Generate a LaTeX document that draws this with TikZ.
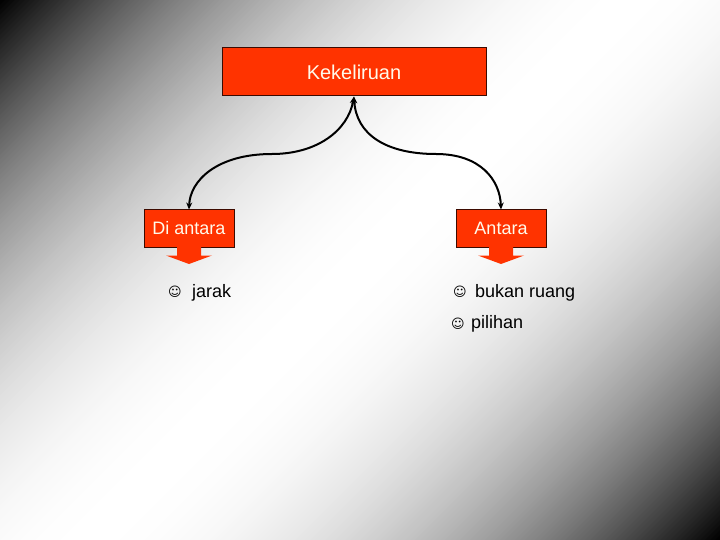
\documentclass[tikz,border=0pt]{standalone}
\usepackage{fontspec}
\setmainfont{Liberation Sans}
\newfontfamily\symfont{DejaVu Sans}
\usetikzlibrary{arrows.meta,calc}
\definecolor{boxred}{RGB}{255,51,0}
\definecolor{boxedge}{RGB}{60,10,0}
\definecolor{boxtext}{RGB}{255,250,235}
\tikzset{
  redbox/.style={draw=boxedge, line width=1pt, fill=boxred, inner sep=0pt,
    text=boxtext, font=\fontsize{18}{20}\selectfont},
  conn/.style={line width=2pt,
    {Stealth[length=7pt,width=6pt]}-{Stealth[length=7pt,width=6pt]}},
  itemtext/.style={anchor=base west, inner sep=0pt, font=\fontsize{18}{20}\selectfont},
  smile/.style={inner sep=0pt, font=\symfont\fontsize{13}{14}\selectfont},
  calloutarrow/.style={fill=boxred}
}
\begin{document}
\begin{tikzpicture}[x=1pt,y=-1pt]
\useasboundingbox (0,0) rectangle (720,540);
% background gradient: diagonal strips x+y = t, black at both ends, white in the middle
\begin{scope}
  \clip (0,0) rectangle (720,540);
  \foreach \t in {0,5,...,1255} {
    \pgfmathsetmacro\dd{min(\t+2.5,1260-\t-2.5)}
    \pgfmathsetmacro\bb{max(1-\dd/630,0.001)}
    \pgfmathsetmacro\vv{100*(1-\bb^2.1)}
    \fill[white!\vv!black] (\t,0) -- (\t+6,0) -- (\t+6-1000,1000) -- (\t-1000,1000) -- cycle;
  }
\end{scope}

% boxes
\node[redbox, minimum width=264pt, minimum height=48pt,
      font=\fontsize{20}{22}\selectfont] (top) at (354,72) {Kekeliruan};
\node[redbox, minimum width=90pt, minimum height=37pt] (dia) at (189,228.5) {Di antara};
\node[redbox, minimum width=90pt, minimum height=37pt] (ant) at (501,228.5) {Antara};

% callout arrows
\fill[calloutarrow] ($(dia.south)+(-12,-1)$) -- ++(0,9) -- ++(-11,0)
   -- ($(dia.south)+(0,16.5)$) -- ($(dia.south)+(23,8)$) -- ($(dia.south)+(12,8)$)
   -- ($(dia.south)+(12,-1)$) -- cycle;
\fill[calloutarrow] ($(ant.south)+(-12,-1)$) -- ++(0,9) -- ++(-11,0)
   -- ($(ant.south)+(0,16.5)$) -- ($(ant.south)+(23,8)$) -- ($(ant.south)+(12,8)$)
   -- ($(ant.south)+(12,-1)$) -- cycle;

% connectors
\coordinate (lm) at (272,154);
\coordinate (rm) at (436,154);
\draw[conn] (dia.north) .. controls +(1,-29) and +(-55,0) .. (lm)
   .. controls +(45,0) and +(-6,34) .. (top.south);
\draw[conn] (top.south) .. controls +(2,38) and +(-50,0) .. (rm)
   .. controls +(45,0) and +(-1,-29) .. (ant.north);

% items
\node[smile] (s1) at (175,292) {☺};
\node[itemtext] (t1) at (192,297) {jarak};
\node[smile] (s2) at (460,292) {☺};
\node[itemtext] (t2) at (475,297) {bukan ruang};
\node[smile] (s3) at (458,323.5) {☺};
\node[itemtext] (t3) at (471,328) {pilihan};
\end{tikzpicture}
\end{document}
